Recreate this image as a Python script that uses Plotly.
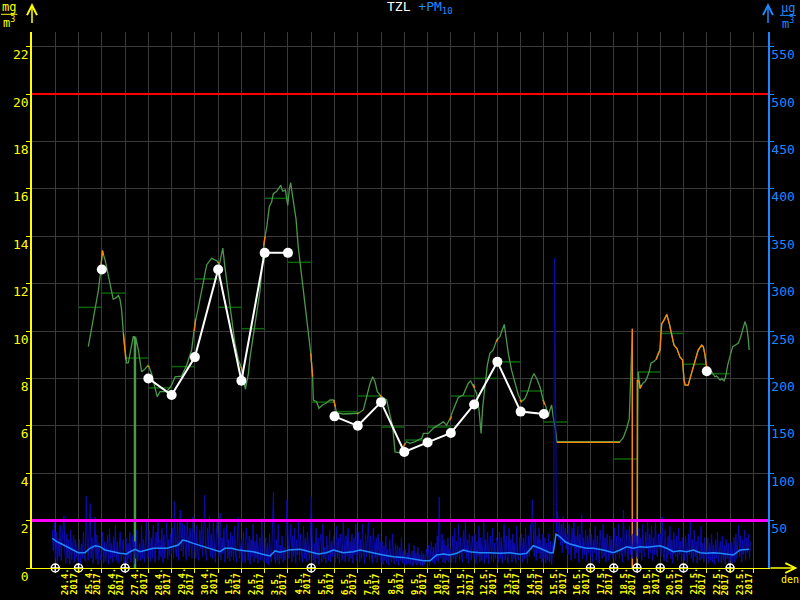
import plotly.graph_objects as go

# ---------------- data (x = days since 23.4.2017 00:00) ----------------
day_labels = ["24.4.", "25.4.", "26.4.", "27.4.", "28.4.", "29.4.", "30.4.", "1.5.", "2.5.", "3.5.",
              "4.5.", "5.5.", "6.5.", "7.5.", "8.5.", "9.5.", "10.5.", "11.5.", "12.5.", "13.5.",
              "14.5.", "15.5.", "16.5.", "17.5.", "18.5.", "19.5.", "20.5.", "21.5.", "22.5.", "23.5."]
year_label = "2017"
tzl_ticks = [0, 2, 4, 6, 8, 10, 12, 14, 16, 18, 20, 22]
pm10_ticks = [50, 100, 150, 200, 250, 300, 350, 400, 450, 500, 550]
tzl_limit = 20
pm10_limit = 50

# TZL running concentration (mg/m3): (day, value)
tzl_hourly = [
    (2.42, 9.34), (2.57, 10.2), (2.71, 11.0), (2.85, 11.7), (2.95, 12.5), (3.02, 13.4), (3.14, 13.0), (3.28, 12.3), (3.42, 11.6), (3.49, 11.35),
    (3.61, 11.4), (3.71, 11.5), (3.78, 11.35), (3.85, 10.9), (3.95, 9.6), (4.07, 8.65), (4.14, 8.66), (4.25, 9.2), (4.35, 9.76), (4.40, 9.76),
    (4.40, 0), (4.45, 0), (4.45, 9.76), (4.57, 9.2), (4.64, 8.65), (4.71, 8.28), (4.86, 8.4), (5.00, 8.57), (5.14, 8.2), (5.29, 7.65),
    (5.38, 7.23), (5.50, 7.44), (5.79, 7.44), (6.00, 7.72), (6.15, 8.07), (6.43, 8.1), (6.65, 8.57), (6.86, 9.2), (7.00, 10.3), (7.15, 11.0),
    (7.36, 12.15), (7.51, 12.8), (7.72, 13.07), (7.94, 12.97), (8.05, 12.8), (8.20, 13.5), (8.29, 12.7), (8.44, 11.6), (8.58, 10.46), (8.72, 9.5),
    (8.87, 8.78), (9.01, 8.44), (9.17, 7.55), (9.30, 8.2), (9.37, 8.9), (9.58, 10.2), (9.66, 10.75), (9.80, 11.7), (9.98, 13.8), (10.09, 14.4),
    (10.20, 15.25), (10.30, 15.45), (10.37, 15.8), (10.52, 15.9), (10.69, 16.16), (10.77, 15.9), (10.89, 15.95), (10.99, 15.3), (11.06, 16.0), (11.12, 16.26),
    (11.16, 15.95), (11.23, 15.4), (11.35, 14.7), (11.44, 13.56), (11.59, 12.3), (11.73, 11.0), (11.87, 9.9), (11.98, 9.06), (12.06, 8.07), (12.09, 7.09),
    (12.23, 7.02), (12.33, 6.74), (12.49, 6.88), (12.63, 6.95), (12.81, 7.09), (12.95, 7.09), (13.02, 6.88), (13.09, 6.55), (13.38, 6.5), (13.67, 6.5),
    (14.02, 6.53), (14.24, 6.67), (14.38, 7.23), (14.53, 7.8), (14.64, 8.07), (14.74, 7.86), (14.84, 7.44), (14.99, 7.26), (15.24, 7.09), (15.38, 6.53),
    (15.50, 5.96), (15.60, 4.9), (15.81, 4.86), (15.99, 5.19), (16.10, 5.33), (16.24, 5.26), (16.46, 5.33), (16.75, 5.47), (16.82, 5.68), (17.03, 5.68),
    (17.25, 5.9), (17.46, 6.03), (17.68, 6.17), (17.82, 6.03), (17.96, 6.3), (18.10, 6.67), (18.25, 7.09), (18.32, 7.2), (18.53, 7.3), (18.75, 7.8),
    (18.85, 7.9), (18.99, 7.65), (19.11, 7.37), (19.21, 6.67), (19.30, 5.68), (19.37, 6.8), (19.47, 7.8), (19.57, 8.57), (19.68, 9.06), (19.82, 9.2),
    (19.97, 9.62), (20.11, 9.76), (20.18, 9.97), (20.30, 10.28), (20.37, 9.76), (20.47, 9.06), (20.61, 8.35), (20.76, 7.8), (20.90, 7.3), (21.04, 7.02),
    (21.19, 7.16), (21.33, 7.5), (21.47, 8.0), (21.57, 8.2), (21.69, 8.0), (21.83, 7.65), (21.97, 7.09), (22.09, 6.8), (22.19, 6.38), (22.26, 6.67),
    (22.33, 6.88), (22.40, 6.38), (22.45, 6.1), (22.52, 5.68), (22.55, 5.33), (25.27, 5.33), (25.41, 5.5), (25.56, 5.9), (25.67, 6.3), (25.70, 7.09),
    (25.74, 8.78), (25.80, 10.1), (25.80, 0), (26.01, 0), (26.03, 6.1), (26.05, 8.28), (26.10, 7.86), (26.13, 7.58), (26.20, 7.72), (26.27, 7.82),
    (26.34, 7.86), (26.42, 8.0), (26.52, 8.28), (26.60, 8.64), (26.70, 8.7), (26.82, 8.8), (26.91, 9.06), (26.99, 9.2), (27.03, 9.9), (27.06, 10.3),
    (27.16, 10.46), (27.28, 10.7), (27.39, 10.3), (27.49, 9.83), (27.59, 9.4), (27.71, 9.27), (27.85, 8.9), (27.96, 8.78), (28.02, 7.93), (28.07, 7.72),
    (28.20, 7.72), (28.28, 8.0), (28.39, 8.35), (28.49, 8.7), (28.63, 9.2), (28.78, 9.4), (28.85, 9.34), (28.92, 9.0), (28.99, 8.5), (29.06, 8.33),
    (29.21, 8.28), (29.35, 8.07), (29.42, 8.1), (29.57, 7.93), (29.64, 8.0), (29.74, 7.9), (29.81, 8.07), (29.90, 8.57), (30.00, 9.0), (30.11, 9.34),
    (30.21, 9.4), (30.35, 9.48), (30.46, 9.76), (30.57, 10.18), (30.64, 10.4), (30.71, 10.18), (30.78, 9.7), (30.82, 9.2),
]

# parts of the TZL curve drawn in orange (flagged values); None breaks the line
tzl_flagged = [
    (2.97, 12.8), (3.03, 13.4), (3.07, 13.2), None,
    (3.93, 9.9), (4.03, 8.8), None,
    (4.98, 8.5), (5.03, 8.5), None,
    (6.98, 10.0), (7.03, 10.5), None,
    (7.98, 12.9), (8.03, 12.9), None,
    (8.98, 8.5), (9.03, 8.3), None,
    (9.96, 13.6), (10.02, 14.0), None,
    (11.98, 9.06), (12.06, 8.07), None,
    (12.98, 7.09), (13.03, 6.8), None,
    (13.97, 6.5), (14.03, 6.55), None,
    (14.97, 7.3), (15.03, 7.2), None,
    (15.97, 5.1), (16.03, 5.25), None,
    (17.97, 6.25), (18.03, 6.4), None,
    (18.97, 7.75), (19.03, 7.6), None,
    (19.96, 9.55), (20.03, 9.7), None,
    (20.97, 7.1), (21.03, 7.0), None,
    (21.96, 7.1), (22.03, 6.9), None,
    (22.55, 5.3), (25.27, 5.3), None,
    (25.80, 10.1), (25.80, 0), (26.01, 0), (26.01, 7.93), (26.10, 7.86), (26.13, 7.58), (26.20, 7.72), None,
    (26.82, 8.8), (26.91, 9.06), (26.99, 9.2), (27.03, 9.9), (27.06, 10.3), (27.16, 10.46), (27.28, 10.7), (27.39, 10.3),
    (27.49, 9.83), (27.59, 9.4), (27.71, 9.27), (27.85, 8.9), (27.96, 8.78), (28.02, 7.93), (28.07, 7.72), (28.20, 7.72),
    (28.28, 8.0), (28.39, 8.35), (28.49, 8.7), (28.63, 9.2), (28.78, 9.4), (28.85, 9.34), (28.92, 9.0), (28.99, 8.5),
]

# daily TZL averages (day start, value)
daily_day = [2, 3, 4, 5, 6, 7, 8, 9, 10, 11, 12, 13, 14, 15, 16, 17, 18, 19, 20, 21, 22, 25, 26, 27, 28, 29]
daily_val = [11.0, 11.6, 8.86, 7.6, 8.5, 12.2, 11.0, 10.1, 15.6, 12.9, 7.0, 6.6, 7.26, 5.95, 5.4, 5.95,
             7.26, 8.0, 8.7, 7.47, 6.16, 4.6, 8.27, 9.9, 8.6, 8.2]

# TZL values at midnight (white points)
midnight_day = [3, 4, 5, 6, 7, 8, 9, 10, 11, 12, 13, 14, 15, 16, 17, 18, 19, 20, 21, 22, 23, 29]
midnight_val = [12.6, None, 8.0, 7.3, 8.9, 12.6, 7.9, 13.3, 13.3, None, 6.4, 6.0, 7.0, 4.9, 5.3, 5.7,
                6.9, 8.7, 6.6, 6.5, None, 8.3]

# midnights with missing value (markers on the time axis)
missing_day = [1, 2, 4, 12, 24, 25, 26, 27, 28, 30]

# PM10 hourly (ug/m3), one value per hour starting 23.4. 21:00
pm10_start_hour = 21
pm10_hourly = (
    [40, 18, 48] +
    [10, 38, 6, 30, 12, 45, 8, 28, 42, 55, 15, 5, 36, 10, 30, 4, 40, 9, 25, 35, 6, 30, 12, 8] +
    [6, 30, 4, 25, 10, 38, 12, 7, 76, 22, 8, 42, 68, 10, 32, 5, 20, 54, 9, 35, 4, 26, 12, 8] +
    [12, 38, 5, 28, 7, 24, 35, 4, 42, 10, 26, 6, 33, 12, 45, 8, 28, 5, 22, 38, 7, 18, 30, 5] +
    [8, 32, 5, 26, 10, 38, 6, 22, 34, 4, 28, 10, 40, 7, 18, 26, 8, 45, 10, 30, 6, 22, 49, 10] +
    [12, 40, 7, 32, 10, 45, 15, 6, 38, 20, 50, 8, 30, 12, 42, 6, 35, 10, 25, 48, 9, 30, 14, 36] +
    [15, 42, 10, 70, 22, 12, 48, 8, 36, 61, 18, 47, 12, 45, 22, 8, 50, 25, 12, 42, 20, 10, 54, 28] +
    [22, 10, 45, 15, 8, 40, 20, 52, 12, 34, 77, 18, 8, 42, 22, 55, 12, 36, 10, 48, 18, 6, 34, 50] +
    [28, 12, 58, 8, 32, 15, 42, 6, 26, 46, 10, 30, 7, 38, 12, 34, 8, 44, 15, 6, 36, 53, 10, 26] +
    [30, 6, 38, 12, 5, 42, 16, 8, 34, 4, 30, 12, 46, 6, 28, 10, 36, 5, 22, 32, 8, 53, 10, 6] +
    [8, 32, 5, 26, 3, 36, 10, 6, 42, 80, 12, 5, 30, 8, 46, 4, 24, 10, 34, 6, 22, 8, 36, 72] +
    [36, 10, 28, 46, 6, 34, 12, 42, 5, 30, 14, 50, 8, 36, 16, 6, 44, 10, 32, 7, 38, 14, 8, 30] +
    [75, 32, 8, 26, 5, 42, 10, 32, 4, 28, 36, 6, 46, 10, 22, 5, 34, 16, 8, 40, 6, 28, 12, 34] +
    [16, 6, 44, 10, 32, 5, 36, 14, 8, 48, 16, 6, 34, 12, 42, 7, 28, 10, 36, 5, 32, 14, 46, 8] +
    [14, 38, 6, 30, 10, 46, 16, 5, 36, 12, 30, 50, 8, 34, 14, 5, 42, 16, 10, 32, 6, 36, 12, 28] +
    [7, 28, 4, 24, 8, 34, 5, 20, 3, 30, 10, 6, 36, 8, 4, 26, 7, 24, 3, 22, 8, 32, 5, 18] +
    [4, 20, 3, 16, 5, 26, 3, 14, 18, 2, 24, 5, 16, 3, 22, 5, 14, 3, 18, 2, 15, 4, 12, 20] +
    [5, 24, 3, 18, 28, 6, 22, 4, 26, 8, 34, 6, 75, 16, 10, 36, 6, 30, 5, 24, 8, 32, 6, 20] +
    [16, 6, 34, 10, 42, 5, 28, 12, 46, 8, 32, 14, 6, 40, 16, 50, 10, 30, 5, 36, 14, 8, 34, 16] +
    [10, 36, 5, 28, 12, 44, 6, 32, 8, 26, 48, 5, 30, 10, 38, 5, 24, 34, 8, 42, 6, 26, 10, 32] +
    [28, 6, 38, 10, 32, 5, 26, 46, 8, 34, 12, 5, 42, 14, 30, 6, 36, 10, 26, 5, 44, 12, 8, 32] +
    [14, 36, 6, 32, 10, 42, 16, 5, 34, 12, 46, 18, 72, 26, 12, 50, 8, 34, 16, 42, 10, 30, 6, 36] +
    [10, 32, 5, 26, 8, 36, 6, 28, 4, 24, 30, 327, 207, 38, 60, 30, 52, 24, 46, 16, 55, 26, 42, 20] +
    [36, 14, 46, 18, 8, 42, 22, 50, 10, 34, 16, 44, 6, 36, 20, 56, 10, 32, 14, 40, 8, 34, 16, 42] +
    [12, 36, 6, 30, 16, 44, 8, 34, 14, 5, 40, 18, 10, 46, 12, 32, 6, 36, 16, 8, 34, 14, 30, 10] +
    [16, 42, 8, 34, 14, 46, 10, 32, 18, 6, 61, 20, 12, 40, 16, 8, 44, 14, 34, 10, 36, 18, 50, 12] +
    [34, 10, 42, 16, 32, 8, 46, 18, 12, 38, 20, 50, 10, 36, 16, 44, 8, 32, 14, 48, 18, 12, 36, 20] +
    [36, 12, 54, 16, 8, 40, 18, 6, 34, 14, 44, 10, 30, 5, 38, 16, 12, 34, 8, 42, 14, 28, 6, 32] +
    [16, 8, 34, 12, 5, 36, 14, 49, 10, 30, 6, 40, 12, 28, 5, 34, 14, 8, 44, 10, 26, 6, 32, 12] +
    [10, 32, 5, 26, 8, 36, 6, 24, 4, 30, 10, 38, 6, 22, 28, 5, 34, 8, 24, 4, 30, 10, 26, 6] +
    [8, 28, 5, 24, 32, 6, 36, 10, 26, 45, 12, 34, 6, 30, 14, 40, 8, 32, 16, 36, 10, 28]
)

# PM10 24h running average (day, ug/m3)
pm10_avg = [
    (0.87, 31.3), (1.06, 27.8), (1.28, 25.3), (1.49, 22.5), (1.77, 18.3), (1.99, 16.2), (2.28, 16.2), (2.49, 20.8), (2.71, 23.5), (2.92, 22.5),
    (3.14, 19.0), (3.43, 17.2), (3.78, 15.5), (4.07, 14.8), (4.21, 17.2), (4.43, 19.7), (4.64, 17.2), (4.93, 19.0), (5.21, 20.8), (5.79, 20.8),
    (6.07, 22.5), (6.29, 24.3), (6.48, 29.5), (6.65, 28.5), (6.93, 26.0), (7.15, 24.3), (7.36, 22.5), (7.65, 20.8), (7.86, 19.0), (8.08, 17.2),
    (8.29, 20.8), (8.58, 20.8), (8.87, 19.0), (9.15, 18.0), (9.51, 17.2), (9.87, 14.8), (10.23, 12.7), (10.44, 18.0), (10.66, 16.6), (10.95, 18.3),
    (11.02, 19.0), (11.52, 19.7), (11.95, 17.2), (12.30, 14.8), (12.66, 16.2), (12.95, 19.0), (13.38, 16.2), (13.81, 17.2), (14.10, 19.0), (14.38, 17.2),
    (14.74, 15.5), (15.10, 13.7), (15.53, 11.9), (15.96, 11.2), (16.39, 9.1), (16.82, 7.7), (17.10, 7.7), (17.39, 13.7), (17.68, 14.8), (17.96, 13.7),
    (18.25, 15.5), (18.53, 19.0), (18.82, 17.2), (19.25, 16.2), (19.68, 16.2), (20.11, 15.5), (20.54, 16.2), (20.97, 14.5), (21.26, 15.5), (21.54, 23.5),
    (21.83, 20.8), (22.26, 16.2), (22.40, 16.2), (22.52, 35.9), (22.69, 33.0), (22.91, 27.7), (23.12, 25.3), (23.33, 24.3), (23.55, 22.5), (23.84, 20.8),
    (24.12, 20.8), (24.55, 19.0), (24.98, 16.2), (25.27, 19.0), (25.56, 22.5), (25.84, 20.8), (26.13, 22.5), (26.42, 21.8), (26.70, 22.5), (26.99, 23.5),
    (27.28, 20.8), (27.56, 17.2), (27.85, 18.3), (28.14, 17.2), (28.42, 19.0), (28.71, 16.2), (28.99, 15.5), (29.28, 16.2), (29.57, 15.5), (29.85, 14.8),
    (30.14, 13.7), (30.43, 19.0), (30.71, 19.7), (30.82, 19.7),
]

# ---------------- figure ----------------
X_MAX = 31.63
Y_MAX = 22.62
PM_SCALE = 25.0
FONT = "DejaVu Sans Mono"
YEL = "#ffff00"
BLUE = "#1e88ff"
GRID = "#3a3a3a"


def unzip(pairs):
    xs, ys = [], []
    for p in pairs:
        if p is None:
            xs.append(None)
            ys.append(None)
        else:
            xs.append(p[0])
            ys.append(p[1])
    return xs, ys


fig = go.Figure()

pm_x = [(pm10_start_hour + i) / 24 for i in range(len(pm10_hourly))]
fig.add_trace(go.Scatter(x=pm_x, y=pm10_hourly, yaxis="y2", mode="lines",
                         line=dict(color="#0c0cb0", width=1)))
ax_, ay_ = unzip(pm10_avg)
fig.add_trace(go.Scatter(x=ax_, y=ay_, yaxis="y2", mode="lines",
                         line=dict(color=BLUE, width=1.5)))
fig.add_trace(go.Scatter(x=[0, X_MAX], y=[pm10_limit, pm10_limit], yaxis="y2", mode="lines",
                         line=dict(color="#ff00ff", width=3)))

dx, dy = [], []
for d, v in zip(daily_day, daily_val):
    dx += [d, d + 1, None]
    dy += [v, v, None]
fig.add_trace(go.Scatter(x=dx, y=dy, mode="lines", line=dict(color="#0a640a", width=1.5)))

gx, gy = unzip(tzl_hourly)
fig.add_trace(go.Scatter(x=gx, y=gy, mode="lines", line=dict(color="#4a984a", width=1.3)))
ox, oy = unzip(tzl_flagged)
fig.add_trace(go.Scatter(x=ox, y=oy, mode="lines", line=dict(color="#ff8800", width=1.3)))

fig.add_trace(go.Scatter(x=[0, X_MAX], y=[tzl_limit, tzl_limit], mode="lines",
                         line=dict(color="#ff0000", width=2)))

fig.add_trace(go.Scatter(x=midnight_day, y=midnight_val, mode="lines+markers",
                         line=dict(color="white", width=2),
                         marker=dict(color="white", size=10), connectgaps=False))

fig.add_trace(go.Scatter(x=missing_day, y=[0] * len(missing_day), mode="markers", cliponaxis=False,
                         marker=dict(symbol="circle-cross-open", color="white", size=8,
                                     line=dict(color="white", width=1.5))))

annotations = []
for i, lab in enumerate(day_labels):
    xc = i + 1.5
    annotations.append(dict(x=xc, y=-0.054, xref="x", yref="paper", text="<b>%s</b>" % lab, showarrow=False,
                            textangle=-90, xanchor="center", yanchor="bottom", xshift=-1,
                            font=dict(family=FONT, size=9, color=YEL)))
    annotations.append(dict(x=xc, y=-0.054, xref="x", yref="paper", text="<b>%s</b>" % year_label,
                            showarrow=False, textangle=-90, xanchor="center", yanchor="bottom", xshift=7,
                            font=dict(family=FONT, size=9, color=YEL)))

# axis arrows
annotations.append(dict(x=0, y=1.054, xref="x", yref="paper", text=" ", showarrow=True,
                        ax=0, ay=30, arrowhead=5, arrowsize=1.3, arrowwidth=1.5, arrowcolor=YEL))
annotations.append(dict(x=X_MAX, y=1.054, xref="x", yref="paper", text=" ", showarrow=True,
                        ax=0, ay=30, arrowhead=5, arrowsize=1.3, arrowwidth=1.5, arrowcolor=BLUE))
annotations.append(dict(x=1.04, y=0, xref="paper", yref="y", text=" ", showarrow=True,
                        ax=-30, ay=0, arrowhead=5, arrowsize=1.3, arrowwidth=1.5, arrowcolor=YEL))
annotations.append(dict(x=1.03, y=-0.008, xref="paper", yref="paper", text="den", showarrow=False,
                        xanchor="center", yanchor="top", font=dict(family=FONT, size=10, color=YEL)))

# units
annotations.append(dict(x=-0.031, y=1.046, xref="paper", yref="paper", text="mg", showarrow=False,
                        xanchor="center", yanchor="middle", font=dict(family=FONT, size=12, color=YEL)))
annotations.append(dict(x=-0.031, y=1.019, xref="paper", yref="paper", text="m<sup>3</sup>", showarrow=False,
                        xanchor="center", yanchor="middle", font=dict(family=FONT, size=12, color=YEL)))
annotations.append(dict(x=1.027, y=1.044, xref="paper", yref="paper", text="µg", showarrow=False,
                        xanchor="center", yanchor="middle", font=dict(family=FONT, size=12, color=BLUE)))
annotations.append(dict(x=1.027, y=1.017, xref="paper", yref="paper", text="m<sup>3</sup>", showarrow=False,
                        xanchor="center", yanchor="middle", font=dict(family=FONT, size=12, color=BLUE)))

# title
annotations.append(dict(x=0.527, y=1.045, xref="paper", yref="paper",
                        text="TZL <span style='color:%s'>+PM<sub>10</sub></span>" % BLUE,
                        showarrow=False, xanchor="center", yanchor="middle",
                        font=dict(family=FONT, size=13, color="white")))

shapes = [
    dict(type="line", xref="paper", yref="paper", x0=-0.042, x1=-0.020, y0=1.033, y1=1.033,
         line=dict(color=YEL, width=1)),
    dict(type="line", xref="paper", yref="paper", x0=1.016, x1=1.038, y0=1.031, y1=1.031,
         line=dict(color=BLUE, width=1)),
]

fig.update_layout(
    template="none",
    width=800, height=600,
    margin=dict(l=32, r=32, t=32, b=32),
    paper_bgcolor="black", plot_bgcolor="black",
    showlegend=False,
    annotations=annotations,
    shapes=shapes,
    xaxis=dict(range=[0, X_MAX], tickmode="array", tickvals=list(range(1, 32)), showticklabels=False,
               ticks="outside", ticklen=4, tickcolor=YEL, tickwidth=1,
               showgrid=True, gridcolor=GRID, gridwidth=1,
               showline=True, linecolor=YEL, linewidth=1, zeroline=False, automargin=False),
    yaxis=dict(range=[0, Y_MAX], tickmode="array", tickvals=tzl_ticks,
               ticks="outside", ticklen=4, tickcolor=YEL, tickwidth=1,
               tickfont=dict(family=FONT, size=13, color=YEL), ticklabelshift=8, ticklabelstandoff=-5,
               showgrid=True, gridcolor=GRID, gridwidth=1,
               showline=True, linecolor=YEL, linewidth=1.5, zeroline=False, automargin=False),
    yaxis2=dict(range=[0, Y_MAX * PM_SCALE], overlaying="y", side="right", tickmode="array",
                tickvals=pm10_ticks, ticks="outside", ticklen=4, tickcolor=BLUE, tickwidth=1,
                tickfont=dict(family=FONT, size=13, color=BLUE), ticklabelshift=8, ticklabelstandoff=-5,
                showgrid=False, showline=True, linecolor=BLUE, linewidth=1.5, zeroline=False,
                automargin=False),
)

fig.write_html("out.html", config={"displayModeBar": False},
               post_script="document.body.style.margin='0';document.body.style.background='black';")
